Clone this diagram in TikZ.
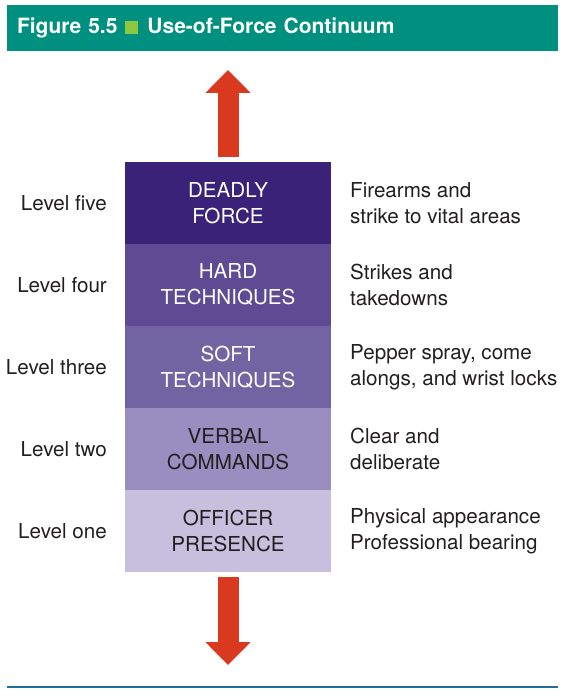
\documentclass[tikz,border=0pt]{standalone}
\usepackage{xcolor}
\usepackage{fontspec}
\setmainfont{TeX Gyre Heros}
\usepackage{tikz}
\usetikzlibrary{arrows.meta,positioning,calc}
\definecolor{ForceTeal}{HTML}{00907F}
\definecolor{ForceGreen}{HTML}{8DC63F}
\definecolor{ForceRed}{HTML}{D8391F}
\definecolor{ForceRule}{HTML}{1F6E9E}
\definecolor{ForceInk}{HTML}{231F20}
\definecolor{LevelFive}{HTML}{3A2279}
\definecolor{LevelFour}{HTML}{5E4B93}
\definecolor{LevelThree}{HTML}{7264A3}
\definecolor{LevelTwo}{HTML}{9A8DBF}
\definecolor{LevelOne}{HTML}{C6BFDD}
\newcommand{\bodyfont}{\fontsize{20.6}{26}\selectfont}

\begin{document}
\begin{tikzpicture}[
    x=1pt, y=-1pt,
    banner/.style={
      fill=ForceTeal,
      minimum width=551pt,
      minimum height=46pt,
      inner sep=0pt,
      text width=531pt,
      align=left,
      text=white,
      font=\bfseries\fontsize{21}{24}\selectfont
    },
    tier/.style={
      minimum width=206pt,
      minimum height=82pt,
      inner sep=0pt,
      align=center,
      font=\bodyfont
    },
    levelname/.style={
      anchor=east,
      inner sep=0pt,
      text=ForceInk,
      font=\bodyfont
    },
    example/.style={
      anchor=west,
      inner sep=0pt,
      align=left,
      text=ForceInk,
      font=\bodyfont
    },
    bigarrow/.style={
      -{Triangle[length=23pt,width=44pt]},
      draw=ForceRed,
      line width=21pt
    }
  ]
    \useasboundingbox (0,0) rectangle (566,698);

    \node[banner] (title) at (282.5,28) {Figure 5.5\hspace{8pt}{\color{ForceGreen}\rule{13pt}{13pt}}\hspace{9pt}Use-of-Force Continuum};

    \node[tier, fill=LevelFive, text=white] (deadly) at (228,203) {DEADLY\\FORCE};
    \node[tier, fill=LevelFour, text=white] (hard) at (228,285) {HARD\\TECHNIQUES};
    \node[tier, fill=LevelThree, text=white] (soft) at (228,367) {SOFT\\TECHNIQUES};
    \node[tier, fill=LevelTwo, text=ForceInk] (verbal) at (228,449) {VERBAL\\COMMANDS};
    \node[tier, fill=LevelOne, text=ForceInk] (presence) at (228,531) {OFFICER\\PRESENCE};

    \node[levelname] (five) at (107,203) {Level five};
    \node[levelname] (four) at (107,285) {Level four};
    \node[levelname] (three) at (107,367) {Level three};
    \node[levelname] (two) at (107,449) {Level two};
    \node[levelname] (one) at (107,531) {Level one};

    \node[example] (fivetxt) at (350,203) {Firearms and\\strike to vital areas};
    \node[example] (fourtxt) at (350,285) {Strikes and\\takedowns};
    \node[example] (threetxt) at (350,367) {Pepper spray, come\\alongs, and wrist locks};
    \node[example] (twotxt) at (350,449) {Clear and\\deliberate};
    \node[example] (onetxt) at (350,531) {Physical appearance\\Professional bearing};

    \coordinate (uptip) at (228,70);
    \coordinate (downtip) at (228,665);
    \draw[bigarrow, shorten <=5pt] (deadly.north) -- (uptip);
    \draw[bigarrow, shorten <=5pt] (presence.south) -- (downtip);

    \draw[ForceRule, line width=2.5pt] (7,687) -- (558,687);
  \end{tikzpicture}
\end{document}
